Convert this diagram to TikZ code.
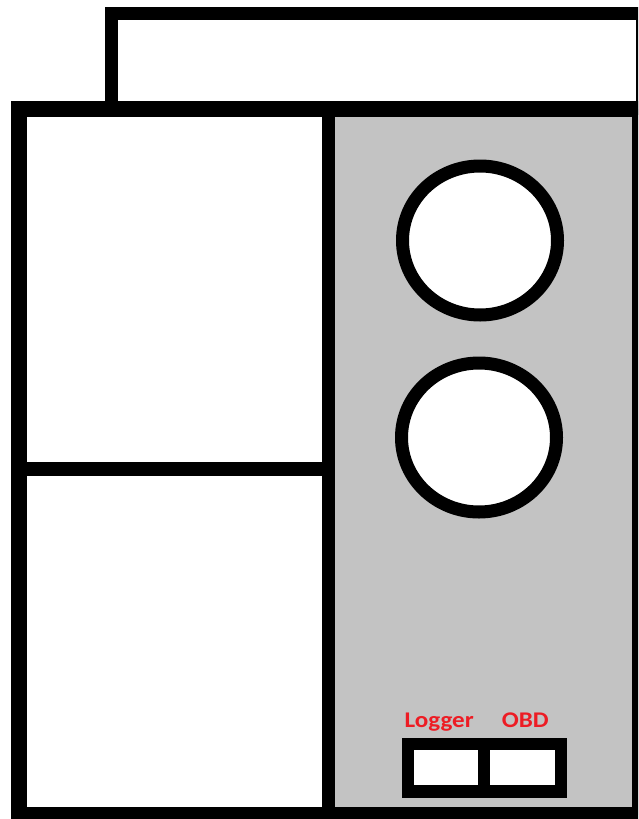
\documentclass[tikz,border=0pt]{standalone}
\usepackage{fontspec}
\newfontfamily\labelfont{Carlito}
\definecolor{panelgray}{RGB}{195,195,195}
\definecolor{labelred}{RGB}{237,28,36}

\begin{document}
\begin{tikzpicture}[x=1pt, y=-1pt,
    frame/.style={draw=black, line width=16pt},
    wall/.style={draw=black, line width=13pt},
    gauge/.style={draw=black, fill=white, line width=13pt},
    portlabel/.style={text=labelred, font=\labelfont\bfseries\fontsize{22.4}{24}\selectfont,
                      xscale=1.12, anchor=base, inner sep=0pt}]
  \clip (0,0) rectangle (638,819);
  \fill[white] (0,0) rectangle (638,819);
  % grey panel on the right
  \fill[panelgray] (328.5,108.5) rectangle (640,815);
  % top box and outer frame
  \draw[wall] (642,108.5) -- (111,108.5) -- (111,13.5) -- (642,13.5) -- cycle;
  \draw[frame] (18.5,108.5) rectangle (640,815);
  % dividers
  \draw[wall] (328.5,108.5) -- (328.5,815);
  \draw[wall, line width=14pt] (18.5,469) -- (328.5,469);
  % the two gauges
  \foreach \cx/\cy in {480/240.5, 479/437.5}{
    \draw[gauge] (\cx,\cy) ellipse [x radius=77.5, y radius=74.5]; }
  % logger / OBD ports
  \fill[black] (401.7,737.7) rectangle (566.7,797.7);
  \foreach \a/\b in {414.3/478.3, 490/555}{
    \fill[white] (\a,750) rectangle (\b,785); }
  \node[portlabel] (logger) at (439.2,727.7) {Logger};
  \node[portlabel] (obd) at (525.3,727.7) {OBD};
\end{tikzpicture}
\end{document}
